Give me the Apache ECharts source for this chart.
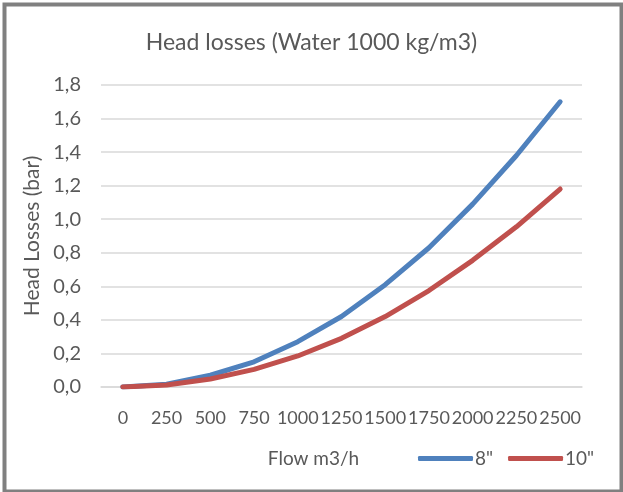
<!DOCTYPE html>
<html><head><meta charset="utf-8">
<script src="https://cdn.jsdelivr.net/npm/echarts@6/dist/echarts.min.js"></script>
<style>html,body{margin:0;padding:0;background:#fff}#c{width:623px;height:492px}</style>
</head><body><div id="c"></div>
<script>
const categories = ['0','250','500','750','1000','1250','1500','1750','2000','2250','2500'];
const series8 = [0, 0.017, 0.07, 0.15, 0.27, 0.42, 0.61, 0.83, 1.09, 1.38, 1.70];
const series10 = [0, 0.012, 0.048, 0.105, 0.185, 0.29, 0.42, 0.575, 0.755, 0.955, 1.18];
const seriesNames = ['8"', '10"'];
const titleText = 'Head losses (Water 1000 kg/m3)';
const yName = 'Head Losses (bar)';
const xName = 'Flow m3/h';

const FONT = 'Lato';
const TXT = '#595959';
const chart = echarts.init(document.getElementById('c'), null, {renderer: 'canvas'});
chart.setOption({
  animation: false,
  backgroundColor: '#fff',
  graphic: [{
    type: 'rect', left: 2, top: 2, silent: true,
    shape: {x: 0, y: 0, width: 617, height: 487},
    style: {fill: 'none', stroke: '#808080', lineWidth: 4}
  }],
  title: {
    text: titleText, left: 'center', top: 26,
    textStyle: {fontFamily: FONT, fontSize: 23, fontWeight: 'normal', color: TXT}
  },
  legend: {
    left: 413, top: 444, padding: 5, itemWidth: 55, itemHeight: 5, itemGap: 15,
    icon: 'roundRect',
    textStyle: {fontFamily: FONT, fontSize: 19, color: TXT, padding: [0,0,0,-3]},
    data: seriesNames
  },
  grid: {left: 101, right: 41, top: 85, bottom: 105, containLabel: false},
  xAxis: {
    type: 'category', data: categories, boundaryGap: true,
    name: xName, nameLocation: 'middle', nameGap: 62,
    nameTextStyle: {fontFamily: FONT, fontSize: 19, color: TXT, padding: [0, 56, 0, 0]},
    axisLine: {lineStyle: {color: '#D9D9D9', width: 1.5}},
    axisTick: {show: false},
    axisLabel: {interval: 0, fontFamily: FONT, fontSize: 18, color: TXT, margin: 22}
  },
  yAxis: {
    type: 'value', min: 0, max: 1.8, interval: 0.2,
    name: yName, nameLocation: 'middle', nameGap: 57, nameRotate: 90,
    nameTextStyle: {fontFamily: FONT, fontSize: 21, color: TXT},
    axisLine: {show: false}, axisTick: {show: false},
    splitLine: {lineStyle: {color: '#D9D9D9', width: 1.5}},
    axisLabel: {fontFamily: FONT, fontSize: 20, color: TXT, margin: 20,
      formatter: v => v.toFixed(1).replace('.', ',')}
  },
  series: [
    {name: seriesNames[0], type: 'line', data: series8, symbol: 'none',
     lineStyle: {color: '#4F81BD', width: 5, cap: 'round', join: 'round'}, itemStyle: {color: '#4F81BD'}},
    {name: seriesNames[1], type: 'line', data: series10, symbol: 'none',
     lineStyle: {color: '#C0504D', width: 5, cap: 'round', join: 'round'}, itemStyle: {color: '#C0504D'}}
  ]
});
</script></body></html>
